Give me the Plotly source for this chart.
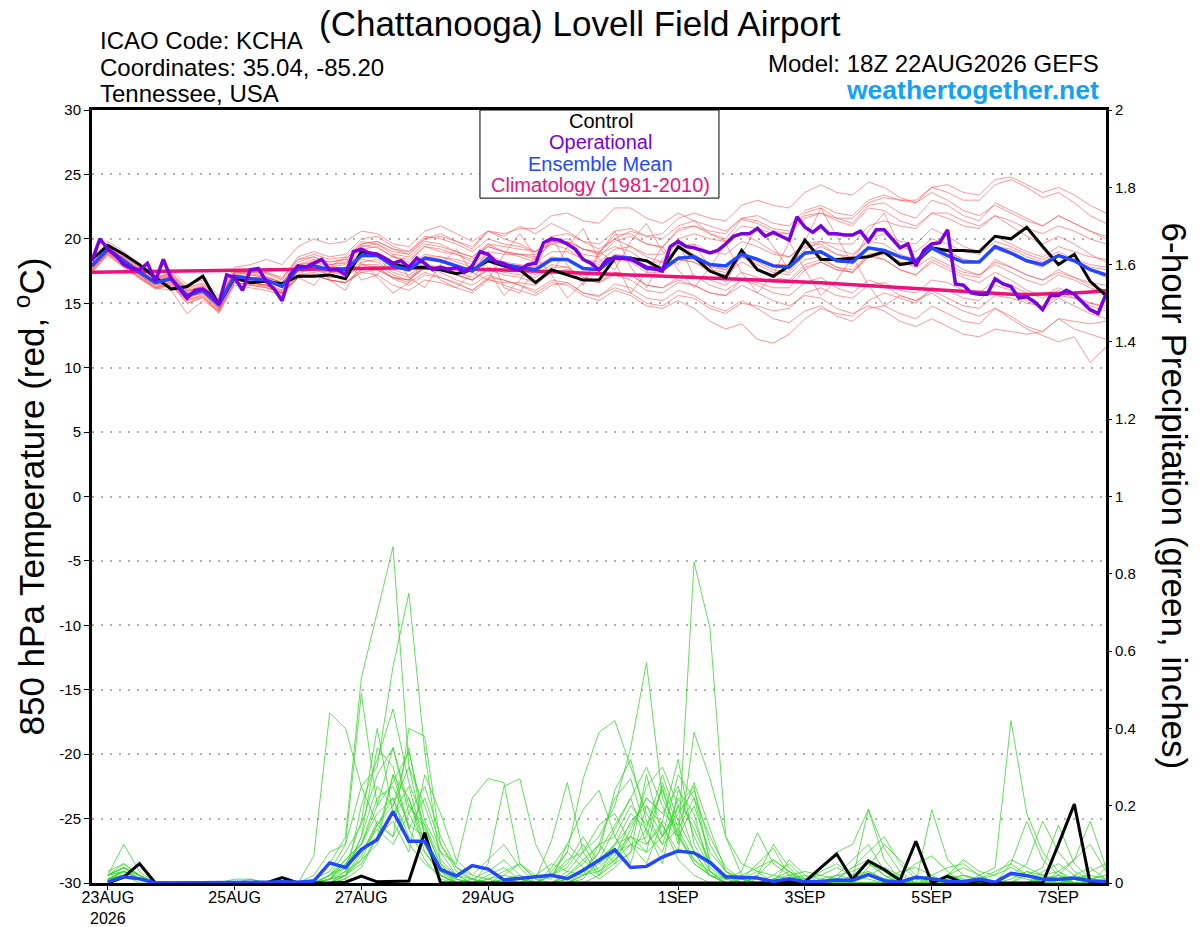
import pandas as pd  # time axis
import plotly.graph_objects as go  # plotting

# model run: 18Z 22AUG2026, 6-hourly out to 384h (operational every 3h)
times = pd.date_range("2026-08-22 18:00", periods=65, freq="6h")
op_times = pd.date_range("2026-08-22 18:00", periods=129, freq="3h")
precip_times = times[1:]

# control run, 850 hPa temperature (C)
control_temp = [
    18.4, 19.5, 18.8, 18.0, 17.0, 16.1, 16.3, 17.1, 14.9, 17.0, 16.6, 16.7, 16.5,
    17.1, 17.1, 17.2, 16.9, 19.0, 18.8, 18.0, 17.8, 17.8, 17.6, 17.3, 17.6, 18.3,
    17.9, 17.6, 16.6, 17.6, 17.2, 16.8, 16.8, 18.5, 18.5, 18.3, 17.6, 19.4, 18.6,
    17.5, 17.0, 19.1, 17.6, 17.1, 17.9, 19.9, 18.4, 18.4, 18.5, 18.6, 19.0, 18.0,
    18.2, 19.3, 19.1, 19.1, 19.0, 20.2, 20.0, 20.9, 19.4, 18.0, 18.8, 16.7, 15.6,
]

# ensemble mean temperature
mean_temp = [
    17.9, 19.2, 18.3, 17.4, 16.6, 16.9, 15.6, 16.0, 14.9, 17.1, 16.9, 16.8, 16.3,
    17.7, 17.9, 17.6, 17.6, 18.7, 18.7, 17.9, 17.6, 18.5, 18.3, 17.9, 17.5, 18.5,
    18.0, 17.8, 17.6, 18.4, 18.4, 17.7, 17.6, 18.6, 18.5, 17.7, 17.6, 18.5, 18.6,
    18.0, 17.9, 18.8, 18.4, 17.9, 17.8, 18.9, 19.0, 18.3, 18.2, 19.3, 19.1, 18.6,
    18.3, 19.3, 18.7, 18.2, 18.2, 19.4, 18.9, 18.3, 18.0, 18.7, 18.3, 17.6, 17.2,
]

# climatology (1981-2010)
clim_temp = [
    17.40, 17.42, 17.44, 17.46, 17.48, 17.50, 17.52, 17.54, 17.56, 17.58,
    17.60, 17.62, 17.64, 17.66, 17.68, 17.70, 17.71, 17.72, 17.73, 17.74,
    17.75, 17.74, 17.72, 17.70, 17.66, 17.62, 17.58, 17.54, 17.50, 17.45,
    17.40, 17.35, 17.30, 17.25, 17.20, 17.15, 17.10, 17.06, 17.02, 16.98,
    16.94, 16.90, 16.86, 16.80, 16.74, 16.68, 16.60, 16.52, 16.44, 16.36,
    16.28, 16.20, 16.12, 16.04, 15.96, 15.88, 15.80, 15.74, 15.70, 15.68,
    15.70, 15.74, 15.80, 15.88, 15.98,
]

# operational run (3-hourly)
op_temp = [
    18.3, 20.0, 19.2, 18.7, 18.0, 17.7, 17.6, 18.1, 16.7, 18.4, 16.9, 16.2, 15.4,
    16.0, 16.1, 15.7, 14.9, 17.2, 17.0, 16.0, 17.6, 17.7, 16.7, 16.1, 15.2, 17.2,
    17.9, 17.8, 18.1, 18.4, 17.6, 17.6, 17.2, 19.0, 19.2, 18.9, 18.8, 18.5, 18.1,
    18.3, 17.8, 18.5, 18.1, 17.6, 17.8, 17.6, 17.8,
    17.4, 17.9, 19.0, 18.8, 18.2, 18.1, 17.7, 17.6, 18.0, 18.1, 19.7, 20.0, 19.9,
    19.6, 19.2, 18.4, 18.1, 17.6, 18.4, 18.5, 18.5, 18.4, 18.1, 17.8, 17.7, 17.5,
    19.4, 19.8, 19.4, 19.3, 19.1, 18.9, 19.1, 19.6, 20.2, 20.4, 20.4,
    20.8, 20.2, 20.5, 20.2, 19.9, 21.7, 20.9, 20.5, 21.0, 20.4, 20.4, 20.3, 20.3,
    20.6, 19.8, 20.7, 20.7, 20.0, 19.3, 19.6, 17.9, 19.1, 19.6, 19.7, 20.7, 16.5,
    16.4, 15.8, 15.7, 15.7, 16.9, 16.5, 16.3, 15.4, 15.5, 15.1, 14.5, 15.6, 15.6,
    16.0, 15.7, 15.1, 14.5, 14.2, 15.7,
]

# ensemble members, temperature
member_temp = [
    [17.6, 19.0, 18.6, 17.8, 16.9, 17.2, 16.0, 16.2, 15.2, 17.4, 17.2, 17.0, 16.6,
     18.2, 18.6, 18.0, 18.1, 19.5, 19.3, 18.6, 18.2, 19.4, 19.0, 18.8, 18.2, 19.6,
     19.0, 18.8, 18.4, 19.8, 20.0, 19.2, 18.9, 20.3, 20.4, 19.6, 19.3, 20.8, 21.0,
     20.4, 20.0, 21.5, 21.2, 20.6, 20.4, 22.0, 22.4, 21.6, 21.2, 22.6, 22.8, 22.0,
     21.6, 23.0, 22.6, 21.8, 21.4, 22.8, 22.2, 21.6, 21.0, 21.8, 21.2, 20.6, 20.2],
    [17.8, 18.8, 17.9, 17.0, 16.2, 16.5, 15.0, 15.4, 14.3, 16.6, 16.5, 16.3, 15.7,
     17.0, 17.2, 16.8, 16.6, 17.6, 17.8, 16.9, 16.4, 17.2, 17.0, 16.5, 16.0, 16.9,
     16.4, 16.0, 15.6, 16.4, 16.6, 15.8, 15.5, 16.5, 16.2, 15.4, 15.2, 16.0, 15.6,
     14.8, 14.4, 15.2, 14.6, 13.8, 13.5, 14.4, 14.8, 14.0, 13.6, 14.6, 14.8, 14.2,
     13.8, 14.8, 14.2, 13.6, 13.4, 14.6, 14.0, 13.2, 12.8, 13.8, 13.0, 12.6, 12.2],
    [18.0, 19.4, 18.5, 17.6, 16.8, 17.0, 15.8, 16.2, 15.0, 17.0, 16.8, 16.6, 16.0,
     17.5, 17.6, 17.2, 17.0, 18.0, 17.8, 17.0, 16.6, 17.4, 17.0, 16.6, 16.0, 17.0,
     16.8, 16.4, 15.8, 16.6, 16.4, 15.6, 15.2, 16.0, 15.6, 14.8, 14.6, 15.2, 14.6,
     13.6, 13.0, 13.4, 12.2, 11.9, 12.6, 13.8, 14.6, 14.2, 14.0, 15.2, 15.8, 15.4,
     15.0, 16.2, 16.0, 15.4, 15.2, 16.4, 16.0, 15.2, 14.6, 15.4, 14.8, 14.2, 13.8],
    [17.4, 18.9, 18.0, 17.2, 16.4, 16.6, 15.4, 15.8, 14.6, 16.8, 16.6, 16.4, 16.0,
     17.4, 17.6, 17.4, 17.2, 18.2, 18.4, 17.6, 17.2, 18.0, 17.8, 17.2, 16.8, 17.6,
     17.2, 17.0, 16.6, 17.4, 17.6, 16.8, 16.6, 17.4, 17.2, 16.4, 16.2, 17.0, 17.2,
     16.4, 16.0, 16.8, 16.4, 15.8, 15.6, 16.6, 17.0, 16.2, 15.8, 16.8, 16.4, 15.6,
     15.2, 15.8, 15.0, 14.4, 14.0, 14.6, 13.8, 13.0, 12.5, 12.0, 12.4, 10.4, 11.6],
    [18.2, 19.6, 18.8, 17.9, 17.0, 17.4, 16.2, 16.6, 15.4, 17.6, 17.6, 17.4, 16.9,
     18.6, 19.0, 18.6, 18.8, 20.0, 20.2, 19.4, 19.0, 20.2, 20.0, 19.6, 19.0, 20.0,
     19.6, 19.4, 19.0, 19.8, 19.6, 18.8, 18.6, 19.8, 20.2, 19.6, 19.4, 20.6, 21.0,
     20.6, 20.4, 21.6, 21.8, 21.2, 21.0, 22.2, 22.6, 22.0, 21.8, 23.0, 23.4, 23.0,
     22.8, 24.0, 24.2, 23.6, 23.4, 24.6, 24.8, 24.2, 23.6, 24.0, 23.4, 22.6, 22.0],
    [17.9, 19.1, 18.2, 17.3, 16.5, 16.8, 15.4, 15.9, 14.6, 17.0, 16.8, 16.7, 16.2,
     17.8, 18.0, 17.6, 17.8, 19.0, 18.8, 18.0, 17.8, 18.8, 18.6, 18.2, 17.8, 18.8,
     18.2, 18.0, 17.8, 18.6, 18.4, 17.8, 17.6, 18.4, 18.2, 17.4, 17.4, 18.4, 18.2,
     17.6, 17.4, 18.6, 18.0, 17.4, 17.2, 18.4, 18.6, 17.8, 17.4, 18.8, 18.4, 17.6,
     17.2, 18.4, 17.8, 17.2, 17.0, 18.4, 17.8, 17.2, 16.8, 17.6, 17.0, 16.4, 16.0],
    [17.7, 19.3, 18.4, 17.6, 16.7, 17.1, 15.9, 16.4, 15.1, 17.5, 17.4, 17.3, 16.8,
     18.4, 18.8, 18.4, 18.6, 19.8, 19.6, 19.0, 18.8, 20.0, 20.4, 19.8, 19.2, 20.6,
     20.2, 21.0, 20.4, 21.2, 20.6, 19.8, 19.2, 20.0, 19.4, 18.6, 18.2, 19.2, 18.8,
     18.0, 17.6, 18.6, 18.2, 17.6, 17.4, 18.8, 19.4, 18.8, 18.6, 20.0, 20.4, 19.8,
     19.6, 20.8, 20.2, 19.4, 19.0, 20.2, 19.6, 19.0, 18.6, 19.4, 19.0, 18.6, 18.4],
    [18.1, 19.0, 18.0, 17.0, 16.2, 16.7, 15.3, 15.6, 14.4, 16.6, 16.4, 16.2, 15.8,
     17.0, 16.4, 17.8, 18.6, 16.8, 17.2, 18.8, 17.0, 16.2, 18.0, 19.2, 17.4, 16.8,
     18.8, 20.4, 18.6, 17.2, 19.4, 20.8, 18.4, 17.6, 19.8, 21.2, 19.0, 18.0, 19.6,
     19.0, 18.8, 19.8, 19.4, 18.8, 18.6, 19.6, 19.8, 19.2, 18.8, 19.8, 19.6, 18.8,
     18.4, 19.2, 18.4, 17.6, 17.2, 18.0, 17.4, 16.8, 16.4, 17.2, 16.8, 16.2, 15.8],
    [17.8, 19.2, 18.4, 17.5, 16.8, 17.0, 15.6, 16.0, 15.0, 17.2, 17.0, 17.0, 16.6,
     18.0, 18.2, 18.0, 18.2, 19.4, 19.6, 18.8, 18.6, 19.6, 19.4, 19.0, 18.6, 19.6,
     19.4, 19.2, 19.0, 20.2, 20.4, 19.8, 19.6, 20.6, 20.8, 20.2, 20.0, 21.0, 21.4,
     21.0, 20.6, 21.6, 21.4, 20.8, 20.6, 21.8, 22.0, 21.4, 21.0, 22.4, 22.2, 21.4,
     21.0, 22.0, 21.6, 21.0, 20.8, 21.8, 21.4, 20.8, 20.4, 21.0, 20.6, 20.0, 19.6],
    [17.6, 18.9, 18.1, 17.1, 16.3, 16.6, 15.2, 15.7, 14.5, 16.8, 16.6, 16.4, 15.9,
     17.2, 17.4, 17.0, 17.0, 18.0, 18.0, 17.2, 16.8, 17.8, 17.4, 16.8, 16.4, 17.2,
     16.8, 16.4, 16.0, 16.8, 16.6, 15.8, 15.6, 16.2, 15.8, 15.0, 14.8, 15.6, 15.4,
     14.6, 14.2, 15.0, 14.8, 14.4, 14.6, 15.8, 16.2, 15.6, 15.4, 16.4, 16.6, 16.0,
     15.8, 16.8, 16.6, 16.0, 15.8, 16.8, 16.4, 15.8, 15.4, 16.0, 15.4, 14.8, 14.4],
    [18.0, 19.5, 18.7, 17.8, 17.0, 17.3, 16.0, 16.3, 15.2, 17.4, 17.2, 17.0, 16.6,
     17.9, 18.2, 17.8, 18.0, 19.2, 19.4, 18.6, 18.4, 19.4, 19.2, 18.8, 18.4, 19.4,
     19.0, 18.8, 18.6, 19.6, 19.8, 19.2, 19.0, 20.0, 20.6, 20.2, 20.4, 21.6, 22.0,
     21.6, 21.4, 22.6, 23.0, 22.6, 22.4, 23.6, 24.2, 23.6, 23.4, 24.4, 24.0, 23.2,
     22.8, 23.6, 23.0, 22.2, 21.8, 22.6, 22.0, 21.4, 21.0, 21.8, 21.2, 20.6, 20.0],
    [17.5, 18.7, 17.8, 16.9, 16.1, 16.4, 15.0, 15.5, 14.2, 16.4, 16.2, 16.0, 15.6,
     17.0, 18.4, 16.8, 16.0, 18.2, 17.0, 15.8, 16.6, 18.4, 16.8, 16.2, 17.4, 19.0,
     16.2, 15.8, 17.8, 20.2, 18.0, 16.4, 18.8, 20.6, 17.8, 16.2, 18.4, 19.8, 17.0,
     16.8, 16.4, 17.4, 17.0, 16.6, 16.6, 17.8, 18.2, 17.6, 17.4, 18.6, 18.8, 18.2,
     18.0, 19.2, 19.0, 18.4, 18.2, 19.4, 19.2, 18.6, 18.2, 18.8, 18.4, 17.8, 17.6],
    [17.9, 19.3, 18.5, 17.6, 16.7, 17.1, 15.7, 16.1, 15.0, 17.3, 17.0, 16.9, 16.4,
     17.8, 18.0, 17.6, 17.4, 18.4, 18.2, 17.4, 17.0, 17.8, 17.6, 17.2, 16.8, 17.8,
     17.4, 17.2, 17.0, 17.8, 17.8, 17.0, 16.8, 17.4, 17.2, 16.4, 16.2, 16.8, 16.4,
     15.8, 15.6, 16.4, 15.8, 15.2, 14.8, 15.6, 15.4, 14.6, 14.2, 14.8, 14.4, 13.6,
     13.2, 13.8, 13.2, 12.6, 12.4, 13.0, 12.8, 12.6, 12.8, 13.8, 13.6, 13.4, 13.6],
    [18.3, 19.8, 19.0, 18.0, 17.2, 17.6, 16.4, 16.8, 15.6, 17.8, 18.0, 18.4, 18.0,
     19.4, 20.0, 19.6, 19.8, 20.6, 20.4, 19.6, 19.4, 20.6, 21.0, 20.4, 19.8, 20.6,
     20.0, 19.6, 19.0, 19.6, 19.2, 18.4, 18.0, 18.8, 18.6, 17.8, 17.6, 18.4, 18.2,
     17.4, 17.2, 18.2, 17.6, 17.0, 16.8, 18.0, 18.4, 17.8, 17.6, 18.8, 19.0, 18.6,
     18.4, 19.4, 19.0, 18.4, 18.2, 19.2, 18.8, 18.2, 17.8, 18.6, 18.4, 18.0, 17.8],
    [17.6, 19.0, 18.2, 17.4, 16.6, 16.8, 15.5, 15.8, 14.7, 16.9, 16.9, 16.8, 16.4,
     17.6, 17.8, 17.4, 17.4, 18.6, 18.6, 18.0, 17.6, 18.6, 18.6, 18.4, 18.0, 19.0,
     18.8, 18.8, 18.8, 19.8, 19.8, 19.2, 18.8, 19.4, 19.0, 18.2, 17.8, 18.6, 18.4,
     17.8, 17.6, 18.6, 18.4, 18.0, 18.0, 19.2, 19.8, 19.6, 19.6, 21.0, 21.4, 21.0,
     20.8, 22.0, 22.0, 21.4, 21.0, 21.8, 21.0, 20.2, 19.6, 20.2, 19.6, 18.8, 18.2],
    [18.0, 19.2, 18.2, 17.2, 16.2, 16.0, 14.2, 15.2, 14.4, 16.8, 16.6, 16.4, 15.8,
     17.0, 17.2, 16.8, 16.6, 17.4, 17.2, 16.4, 16.0, 16.8, 16.6, 16.2, 15.8, 16.8,
     16.6, 16.6, 16.4, 17.4, 17.6, 17.2, 17.2, 18.2, 18.6, 18.2, 18.2, 19.4, 19.6,
     17.8, 16.6, 18.8, 21.0, 19.4, 17.6, 19.8, 22.4, 20.2, 18.0, 20.6, 22.0, 19.4,
     19.0, 20.0, 19.6, 19.0, 18.8, 19.8, 19.4, 18.8, 18.4, 19.0, 18.4, 17.6, 17.0],
    [17.8, 19.1, 18.3, 17.5, 16.8, 17.2, 15.9, 16.3, 15.2, 17.4, 17.4, 17.4, 17.0,
     18.4, 18.6, 18.2, 18.4, 19.6, 19.8, 19.2, 19.0, 20.0, 20.2, 19.8, 19.4, 20.6,
     20.4, 20.8, 20.8, 21.8, 22.0, 21.4, 21.2, 22.4, 22.4, 21.6, 21.2, 22.0, 21.4,
     20.4, 19.8, 20.4, 19.8, 19.0, 18.6, 19.4, 19.6, 18.8, 18.4, 19.2, 19.0, 18.2,
     17.8, 18.6, 18.0, 17.4, 17.2, 18.2, 17.8, 17.2, 16.8, 17.4, 17.0, 16.6, 16.4],
    [17.7, 19.0, 18.1, 17.2, 16.4, 16.8, 15.5, 15.8, 14.6, 17.0, 16.6, 16.4, 15.8,
     17.2, 17.2, 16.8, 16.6, 17.4, 17.6, 17.0, 16.8, 17.8, 17.8, 17.4, 17.0, 18.2,
     17.8, 17.6, 17.2, 18.0, 17.8, 17.0, 16.6, 17.2, 16.8, 16.0, 15.8, 16.6, 16.4,
     15.8, 15.6, 16.8, 16.6, 16.2, 16.2, 17.6, 18.2, 17.6, 17.4, 18.6, 18.4, 17.6,
     17.2, 18.2, 17.6, 17.0, 16.6, 17.4, 16.8, 16.0, 15.6, 16.2, 15.6, 15.0, 14.6],
    [18.1, 19.4, 18.6, 17.7, 16.9, 17.3, 16.1, 16.5, 15.3, 17.5, 17.3, 17.1, 16.6,
     18.0, 18.4, 18.2, 18.4, 19.6, 19.8, 19.2, 18.8, 19.8, 19.6, 19.0, 18.6, 19.4,
     19.0, 18.6, 18.2, 19.0, 19.0, 18.4, 18.2, 19.2, 19.4, 18.8, 18.8, 20.0, 20.4,
     20.0, 19.8, 21.0, 20.8, 20.4, 20.4, 21.6, 22.0, 21.6, 21.6, 22.8, 23.2, 23.0,
     23.0, 24.0, 23.6, 23.0, 23.0, 24.2, 24.6, 24.0, 23.2, 23.6, 22.8, 21.8, 21.2],
    [17.4, 18.8, 17.8, 17.0, 16.2, 16.4, 15.2, 15.5, 14.4, 16.6, 16.4, 16.2, 15.8,
     17.0, 17.2, 16.8, 16.6, 17.6, 17.6, 17.0, 16.8, 17.8, 17.6, 17.2, 16.8, 17.6,
     15.6, 16.8, 18.6, 17.2, 15.4, 16.6, 19.0, 18.2, 15.8, 17.4, 19.4, 17.6, 16.2,
     17.8, 19.6, 17.4, 15.8, 17.2, 19.8, 17.6, 15.6, 16.8, 18.6, 16.4, 14.8, 15.6,
     15.2, 16.0, 15.4, 14.8, 14.6, 15.6, 15.4, 15.0, 14.8, 15.6, 15.4, 15.0, 14.8],
]

# 6-hour precipitation (inches), valid 23AUG 00Z onwards
control_precip = [
    0, 0.015, 0.05, 0, 0, 0, 0, 0, 0, 0, 0, 0.014, 0, 0, 0, 0.002,
    0.018, 0.003, 0.004, 0.005, 0.13, 0, 0, 0, 0, 0, 0, 0, 0, 0, 0, 0,
    0, 0, 0, 0, 0, 0, 0, 0, 0, 0, 0, 0.004, 0.003, 0.04, 0.075, 0.009,
    0.057, 0.035, 0.007, 0.108, 0, 0.018, 0, 0.006, 0, 0, 0, 0, 0.10, 0.204, 0, 0,
]

mean_precip = [
    0.003, 0.016, 0.011, 0, 0, 0, 0, 0, 0, 0.001, 0.002, 0.003, 0.002, 0.005, 0.052, 0.04,
    0.087, 0.112, 0.185, 0.108, 0.108, 0.035, 0.018, 0.045, 0.036, 0.008, 0.012, 0.016, 0.02, 0.011, 0.033, 0.059,
    0.086, 0.04, 0.043, 0.067, 0.083, 0.078, 0.053, 0.016, 0.015, 0.013, 0.004, 0.011, 0.003, 0.004, 0.008, 0.007,
    0.022, 0.006, 0.002, 0.015, 0.011, 0.004, 0.003, 0.01, 0.002, 0.025, 0.019, 0.01, 0.01, 0.013, 0.006, 0.004,
]

member_precip = [
    [0.02, 0.04, 0.01, 0, 0, 0, 0, 0, 0, 0, 0, 0, 0, 0, 0.05, 0.12,
     0.53, 0.70, 0.87, 0.30, 0.12, 0.03, 0.01, 0, 0, 0.02, 0.05, 0.01, 0, 0, 0.03, 0.08,
     0.15, 0.22, 0.30, 0.20, 0.12, 0.05, 0.02, 0, 0, 0, 0.01, 0.03, 0, 0, 0, 0.01,
     0.03, 0.01, 0, 0, 0, 0.02, 0.01, 0, 0, 0, 0, 0.01, 0, 0, 0, 0],
    [0.01, 0.03, 0.02, 0, 0, 0, 0, 0, 0, 0, 0, 0, 0, 0.02, 0.08, 0.10,
     0.25, 0.30, 0.56, 0.75, 0.34, 0.05, 0, 0.01, 0.03, 0.06, 0.02, 0, 0, 0, 0.02, 0.10,
     0.22, 0.27, 0.13, 0.08, 0.20, 0.25, 0.05, 0.01, 0, 0, 0, 0, 0, 0, 0.02, 0.03,
     0.05, 0.03, 0.01, 0, 0, 0, 0, 0, 0, 0, 0, 0, 0, 0, 0, 0],
    [0.03, 0.05, 0.02, 0, 0, 0, 0, 0, 0, 0, 0, 0, 0, 0.07, 0.44, 0.40,
     0.25, 0.15, 0.22, 0.10, 0.05, 0.02, 0, 0, 0.01, 0.02, 0.01, 0, 0.02, 0.05, 0.12, 0.05,
     0.08, 0.12, 0.10, 0.15, 0.06, 0.02, 0, 0, 0, 0, 0.01, 0.02, 0.03, 0.02, 0.01, 0,
     0, 0, 0, 0, 0, 0.01, 0.02, 0.01, 0, 0, 0, 0.02, 0.03, 0.01, 0, 0],
    [0.02, 0.10, 0.03, 0, 0, 0, 0, 0, 0, 0, 0, 0, 0, 0.01, 0.03, 0.10,
     0.49, 0.20, 0.35, 0.18, 0.10, 0.02, 0, 0, 0.01, 0.03, 0.05, 0.02, 0.01, 0.10, 0.19, 0.24,
     0.12, 0.05, 0.20, 0.15, 0.08, 0.39, 0.27, 0.12, 0.02, 0, 0.01, 0, 0, 0, 0, 0,
     0, 0, 0, 0, 0.01, 0, 0, 0, 0, 0, 0, 0, 0, 0, 0, 0],
    [0.01, 0.02, 0.01, 0, 0, 0, 0, 0, 0, 0, 0, 0, 0, 0, 0.01, 0.06,
     0.10, 0.18, 0.22, 0.12, 0.08, 0.03, 0.01, 0, 0, 0, 0, 0, 0.02, 0.04, 0.10, 0.03,
     0.06, 0.10, 0.12, 0.25, 0.10, 0.83, 0.66, 0.12, 0.05, 0.03, 0, 0, 0, 0, 0.01, 0.04,
     0.06, 0.02, 0, 0, 0, 0, 0, 0, 0, 0.02, 0.01, 0, 0, 0, 0, 0],
    [0.01, 0.03, 0.01, 0, 0, 0, 0, 0, 0, 0, 0, 0, 0, 0, 0.02, 0.04,
     0.08, 0.12, 0.28, 0.22, 0.10, 0.02, 0, 0, 0, 0.01, 0, 0, 0.02, 0.06, 0.08, 0.12,
     0.20, 0.35, 0.57, 0.22, 0.13, 0.05, 0.02, 0.01, 0.03, 0.13, 0.05, 0.02, 0, 0, 0, 0.01,
     0.19, 0.09, 0.03, 0, 0, 0.01, 0.02, 0, 0, 0, 0, 0, 0, 0.01, 0, 0],
    [0.02, 0.04, 0.02, 0, 0, 0, 0, 0, 0, 0, 0, 0, 0, 0, 0.01, 0.02,
     0.12, 0.35, 0.30, 0.14, 0.06, 0.01, 0, 0, 0.05, 0.25, 0.27, 0.10, 0.02, 0.08, 0.27, 0.39,
     0.42, 0.30, 0.18, 0.10, 0.22, 0.14, 0.05, 0.02, 0.01, 0, 0, 0, 0, 0.03, 0.05, 0.02,
     0.03, 0.01, 0, 0, 0, 0.02, 0.04, 0.02, 0, 0, 0.03, 0.02, 0.01, 0, 0, 0],
    [0, 0.02, 0.01, 0, 0, 0, 0, 0, 0, 0.01, 0, 0, 0, 0, 0, 0.03,
     0.06, 0.15, 0.20, 0.30, 0.20, 0.08, 0.05, 0.22, 0.27, 0.26, 0.05, 0.01, 0.11, 0.26, 0.08, 0.02,
     0.10, 0.18, 0.14, 0.28, 0.16, 0.08, 0.02, 0, 0, 0, 0.02, 0.05, 0.01, 0, 0, 0,
     0, 0, 0.02, 0.05, 0.07, 0.03, 0, 0, 0, 0, 0, 0, 0, 0, 0, 0.04],
    [0.01, 0.03, 0.01, 0, 0, 0, 0, 0, 0, 0, 0, 0, 0, 0, 0.01, 0.05,
     0.10, 0.22, 0.25, 0.15, 0.12, 0.04, 0, 0, 0, 0, 0, 0, 0, 0.02, 0.05, 0.10,
     0.12, 0.20, 0.15, 0.24, 0.12, 0.06, 0.03, 0, 0, 0, 0, 0, 0, 0, 0, 0,
     0, 0, 0, 0, 0, 0, 0, 0.02, 0.04, 0.42, 0.18, 0.08, 0.03, 0, 0, 0],
    [0.01, 0.02, 0.01, 0, 0, 0, 0, 0, 0, 0, 0, 0, 0, 0, 0, 0.02,
     0.05, 0.12, 0.18, 0.25, 0.10, 0.03, 0, 0, 0.02, 0.04, 0.01, 0, 0, 0.03, 0.08, 0.15,
     0.18, 0.10, 0.08, 0.12, 0.20, 0.16, 0.05, 0.02, 0.01, 0.05, 0.09, 0.02, 0.01, 0.04, 0.08, 0.10,
     0.19, 0.06, 0.01, 0, 0.19, 0.06, 0.02, 0.01, 0.03, 0.05, 0.02, 0, 0.01, 0, 0, 0],
    [0.02, 0.05, 0.02, 0, 0, 0, 0, 0, 0, 0, 0, 0, 0, 0, 0.02, 0.08,
     0.15, 0.28, 0.35, 0.20, 0.14, 0.05, 0.02, 0, 0, 0, 0, 0.02, 0.05, 0.03, 0.02, 0.05,
     0.10, 0.15, 0.22, 0.18, 0.25, 0.12, 0.04, 0.01, 0.01, 0.02, 0.10, 0.04, 0, 0, 0.02, 0.06,
     0.10, 0.03, 0, 0, 0, 0, 0, 0, 0, 0.05, 0.16, 0.06, 0.02, 0, 0, 0],
    [0.01, 0.02, 0, 0, 0, 0, 0, 0, 0, 0, 0, 0, 0, 0, 0, 0.01,
     0.20, 0.32, 0.45, 0.26, 0.15, 0.06, 0.02, 0.01, 0, 0, 0, 0, 0.04, 0.10, 0.06, 0.02,
     0.05, 0.08, 0.28, 0.12, 0.18, 0.24, 0.10, 0.03, 0, 0, 0, 0.01, 0.02, 0.01, 0, 0,
     0.02, 0.04, 0.02, 0, 0, 0, 0, 0, 0, 0, 0.02, 0.04, 0.15, 0.05, 0.01, 0],
    [0.02, 0.03, 0.01, 0, 0, 0, 0, 0, 0, 0, 0, 0, 0, 0, 0.02, 0.05,
     0.08, 0.15, 0.12, 0.40, 0.38, 0.10, 0.03, 0.01, 0, 0, 0, 0, 0, 0, 0.02, 0.04,
     0.08, 0.10, 0.05, 0.16, 0.32, 0.10, 0.03, 0, 0.01, 0.03, 0.02, 0.01, 0, 0.01, 0.02, 0.01,
     0.02, 0.01, 0.03, 0.04, 0.02, 0, 0, 0, 0, 0.02, 0.05, 0.16, 0.08, 0.03, 0.01, 0.02],
    [0.01, 0.02, 0.01, 0, 0, 0, 0, 0, 0, 0, 0, 0, 0, 0, 0, 0.02,
     0.06, 0.10, 0.28, 0.14, 0.22, 0.10, 0.04, 0.02, 0.06, 0.10, 0.04, 0, 0, 0, 0.01, 0.06,
     0.14, 0.22, 0.10, 0.16, 0.12, 0.20, 0.08, 0.03, 0.01, 0, 0, 0.06, 0.02, 0, 0, 0.02,
     0.05, 0.02, 0, 0, 0, 0.01, 0, 0.01, 0.02, 0.06, 0.04, 0.02, 0, 0, 0.03, 0.05],
    [0.02, 0.04, 0.02, 0, 0, 0, 0, 0, 0, 0, 0, 0, 0, 0, 0.01, 0.03,
     0.12, 0.25, 0.20, 0.35, 0.12, 0.02, 0, 0, 0, 0, 0, 0, 0, 0.01, 0.03, 0.08,
     0.24, 0.32, 0.16, 0.10, 0.14, 0.22, 0.12, 0.04, 0.01, 0, 0, 0, 0, 0, 0.01, 0.04,
     0.08, 0.12, 0.05, 0.01, 0, 0, 0, 0, 0, 0, 0, 0.01, 0.02, 0.06, 0.16, 0.04],
    [0.01, 0.03, 0.01, 0, 0, 0, 0, 0, 0, 0, 0, 0, 0, 0, 0.01, 0.04,
     0.16, 0.40, 0.18, 0.22, 0.08, 0.02, 0, 0, 0, 0, 0, 0, 0.03, 0.08, 0.04, 0.01,
     0.04, 0.08, 0.14, 0.05, 0.24, 0.18, 0.03, 0.01, 0.02, 0.04, 0.06, 0.03, 0.01, 0.02, 0.04, 0.02,
     0.01, 0, 0, 0.01, 0.02, 0.04, 0.05, 0.02, 0, 0, 0, 0.03, 0.05, 0.02, 0.01, 0.02],
    [0.02, 0.03, 0.01, 0, 0, 0, 0, 0, 0, 0, 0, 0, 0, 0, 0, 0.01,
     0.04, 0.12, 0.16, 0.08, 0.28, 0.18, 0.06, 0.02, 0.01, 0, 0, 0, 0, 0, 0, 0.02,
     0.06, 0.12, 0.08, 0.26, 0.14, 0.06, 0.02, 0, 0, 0, 0, 0, 0, 0, 0, 0,
     0, 0, 0, 0, 0, 0, 0, 0, 0, 0.01, 0.03, 0.01, 0, 0.02, 0.04, 0.01],
    [0.01, 0.02, 0.01, 0, 0, 0, 0, 0, 0.01, 0.01, 0, 0, 0, 0, 0.02, 0.06,
     0.10, 0.20, 0.26, 0.34, 0.16, 0.08, 0.02, 0, 0, 0, 0, 0, 0, 0.01, 0.03, 0.06,
     0.10, 0.12, 0.25, 0.30, 0.20, 0.08, 0.02, 0, 0, 0.02, 0.06, 0.03, 0, 0, 0, 0,
     0.04, 0.10, 0.06, 0.02, 0, 0.02, 0.06, 0.03, 0.02, 0.04, 0.02, 0, 0, 0.01, 0.02, 0.01],
    [0.02, 0.04, 0.02, 0, 0, 0, 0, 0, 0, 0, 0, 0, 0, 0, 0, 0.02,
     0.08, 0.14, 0.10, 0.18, 0.25, 0.12, 0.04, 0.01, 0, 0, 0.01, 0, 0, 0, 0.02, 0.03,
     0.07, 0.16, 0.20, 0.12, 0.28, 0.22, 0.06, 0.02, 0, 0, 0.01, 0, 0, 0, 0, 0,
     0, 0, 0, 0, 0, 0, 0, 0, 0, 0, 0, 0, 0.03, 0.06, 0.10, 0.03],
    [0.01, 0.03, 0.01, 0, 0, 0, 0, 0, 0, 0, 0, 0, 0, 0, 0.01, 0.02,
     0.07, 0.16, 0.12, 0.20, 0.15, 0.04, 0.01, 0, 0, 0.01, 0.02, 0, 0, 0.02, 0.06, 0.10,
     0.05, 0.14, 0.22, 0.18, 0.15, 0.26, 0.14, 0.03, 0.01, 0, 0, 0, 0, 0, 0, 0,
     0, 0, 0, 0, 0, 0.01, 0.01, 0, 0, 0, 0, 0, 0.02, 0.01, 0, 0],
]

# axis ticks
date_ticks = ["2026-08-23", "2026-08-25", "2026-08-27", "2026-08-29",
              "2026-09-01", "2026-09-03", "2026-09-05", "2026-09-07"]
date_labels = ["23AUG<br>2026", "25AUG", "27AUG", "29AUG", "1SEP", "3SEP", "5SEP", "7SEP"]
temp_ticks = [-30, -25, -20, -15, -10, -5, 0, 5, 10, 15, 20, 25, 30]
precip_ticks = [0, 0.2, 0.4, 0.6, 0.8, 1, 1.2, 1.4, 1.6, 1.8, 2]

FONT = "Liberation Sans, Arial, sans-serif"

fig = go.Figure()

# ensemble members
for m in member_temp:
    fig.add_trace(go.Scatter(x=times, y=m, mode="lines",
                             line=dict(color="rgba(255,80,80,0.75)", width=0.8),
                             hoverinfo="skip", showlegend=False))
for m in member_precip:
    fig.add_trace(go.Scatter(x=precip_times, y=m, mode="lines", yaxis="y2",
                             line=dict(color="#38d82c", width=0.8),
                             hoverinfo="skip", showlegend=False))

# main temperature lines
fig.add_trace(go.Scatter(x=times, y=clim_temp, mode="lines", name="Climatology (1981-2010)",
                         line=dict(color="#f0107a", width=3.5)))
fig.add_trace(go.Scatter(x=times, y=control_temp, mode="lines", name="Control",
                         line=dict(color="black", width=3)))
fig.add_trace(go.Scatter(x=times, y=mean_temp, mode="lines", name="Ensemble Mean",
                         line=dict(color="#2248ff", width=3.5)))
fig.add_trace(go.Scatter(x=op_times, y=op_temp, mode="lines", name="Operational",
                         line=dict(color="#7a00e0", width=3.5)))

# precip lines
fig.add_trace(go.Scatter(x=precip_times, y=control_precip, mode="lines", yaxis="y2",
                         line=dict(color="black", width=3), showlegend=False))
fig.add_trace(go.Scatter(x=precip_times, y=mean_precip, mode="lines", yaxis="y2",
                         line=dict(color="#2248ff", width=3.5), showlegend=False))

# page is shown with an 8px body offset, so margins are shifted by 8px
fig.update_layout(
    width=1200, height=927,
    margin=dict(l=84, r=102, t=102, b=52),
    paper_bgcolor="white", plot_bgcolor="white",
    showlegend=False,
    font=dict(family=FONT, color="black", size=15),
    xaxis=dict(
        range=[times[0], times[-1]],
        tickvals=date_ticks, ticktext=date_labels,
        showgrid=False, zeroline=False, automargin=False,
        showline=True, linecolor="black", linewidth=3, mirror=True,
        ticks="outside", ticklen=4, tickcolor="black",
        ticklabelstandoff=-6,
        tickfont=dict(size=16),
    ),
    yaxis=dict(
        range=[-30, 30], automargin=False,
        tickvals=temp_ticks, ticktext=[str(t) for t in temp_ticks],
        showgrid=True, gridcolor="#b0b0b0", griddash="2px,7px", gridwidth=1.5,
        zeroline=False,
        showline=True, linecolor="black", linewidth=3, mirror=True,
        ticks="outside", ticklen=5, tickcolor="black",
        tickfont=dict(size=15),
    ),
    yaxis2=dict(
        range=[0, 2], overlaying="y", side="right", automargin=False,
        tickvals=precip_ticks, ticktext=[f"{t:g}" for t in precip_ticks],
        showgrid=False, zeroline=False, showline=False,
        ticks="outside", ticklen=5, tickcolor="black",
        tickfont=dict(size=15),
    ),
)

# legend box
fig.add_shape(type="rect", xref="paper", yref="paper",
              x0=0.3826, x1=0.6183, y0=0.886, y1=1.0,
              line=dict(color="black", width=1), fillcolor="white", layer="above")
legend_items = [("Control", "black"), ("Operational", "#7a00e0"),
                ("Ensemble Mean", "#2248ff"), ("Climatology (1981-2010)", "#f0107a")]
for k, (txt, col) in enumerate(legend_items):
    fig.add_annotation(x=0.5015, y=0.986 - k * 0.0278, xref="paper", yref="paper",
                       text=txt, showarrow=False, font=dict(size=20, color=col),
                       xanchor="center", yanchor="middle")

# title and station info
fig.add_annotation(x=0.481, y=1.1113, xref="paper", yref="paper",
                   text="(Chattanooga) Lovell Field Airport", showarrow=False,
                   font=dict(size=35), xanchor="center", yanchor="middle")
for k, txt in enumerate(["ICAO Code: KCHA", "Coordinates: 35.04, -85.20", "Tennessee, USA"]):
    fig.add_annotation(x=0.006, y=1.090 - k * 0.0345, xref="paper", yref="paper",
                       text=txt, showarrow=False, font=dict(size=24),
                       xanchor="left", yanchor="middle")
fig.add_annotation(x=0.9955, y=1.0605, xref="paper", yref="paper",
                   text="Model: 18Z 22AUG2026 GEFS", showarrow=False,
                   font=dict(size=24), xanchor="right", yanchor="middle")
fig.add_annotation(x=0.9955, y=1.0255, xref="paper", yref="paper",
                   text="<b>weathertogether.net</b>", showarrow=False,
                   font=dict(size=26.5, color="#12a2f5"), xanchor="right", yanchor="middle")

# axis titles
fig.add_annotation(x=-0.0621, y=0.5, xref="paper", yref="paper",
                   text="850 hPa Temperature (red, <sup>o</sup>C)", showarrow=False,
                   textangle=-90, font=dict(size=35), xanchor="center", yanchor="middle")
fig.add_annotation(x=1.068, y=0.5, xref="paper", yref="paper",
                   text="6-hour Precipitation (green, inches)", showarrow=False,
                   textangle=90, font=dict(size=35), xanchor="center", yanchor="middle")

fig.write_html("out.html")
